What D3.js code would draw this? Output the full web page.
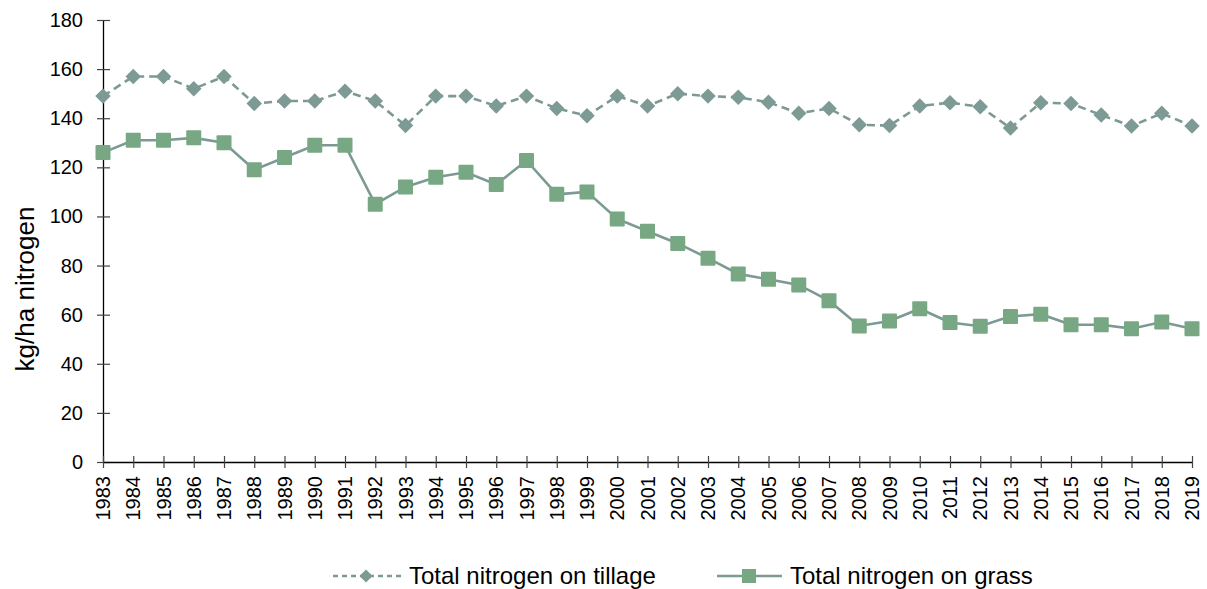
<!DOCTYPE html>
<html>
<head>
<meta charset="utf-8">
<script src="https://cdn.jsdelivr.net/npm/d3@7"></script>
<style>
  html, body { margin: 0; padding: 0; background: #fff; }
  svg { display: block; font-family: "Liberation Sans", Arial, sans-serif; }
  .axis text { fill: #000; font-family: "Liberation Sans", Arial, sans-serif; }
</style>
</head>
<body>
<svg id="chart" width="1207" height="589"></svg>
<script>
// Annual nitrogen application rates, kg/ha
const years = d3.range(1983, 2020);
const tillage = [149, 157, 157, 152, 157, 146, 147, 147, 151, 147, 137, 149, 149, 145, 149, 144, 141,
  149, 145, 150, 149, 148.5, 146.5, 142, 144, 137.3, 137, 145, 146.3, 144.7, 136, 146.3, 146, 141.3, 136.8, 142, 136.8];
const grass = [126, 131, 131, 132, 130, 119, 124, 129, 129, 105, 112, 116, 118, 113, 122.8, 109, 110,
  99, 94, 89, 83, 76.6, 74.4, 72.1, 65.7, 55.4, 57.4, 62.4, 56.8, 55.3, 59.3, 60.2, 55.9, 55.9, 54.3, 57, 54.3];
const yTicks = [0, 20, 40, 60, 80, 100, 120, 140, 160, 180];
const seriesNames = ["Total nitrogen on tillage", "Total nitrogen on grass"];

const svg = d3.select("#chart");
const plotLeft = 103, plotRight = 1192, plotTop = 20, plotBottom = 462;
const fontFamily = "Liberation Sans, Arial, sans-serif";
const tickFont = 20;

const x = d3.scaleLinear().domain([1983, 2019]).range([plotLeft, plotRight]);
const y = d3.scaleLinear().domain([0, 180]).range([plotBottom, plotTop]);

const lineColor = "#7c9a93";
const diamondColor = "#7d9a94";
const squareColor = "#77a883";

// Y axis: labels drawn as plain text so their size is set directly
const yAxis = svg.append("g").attr("class", "axis").attr("transform", `translate(${plotLeft},0)`)
  .call(d3.axisLeft(y).tickValues(yTicks).tickSize(0).tickFormat(""));
yAxis.select(".domain").attr("stroke", "#000").attr("stroke-width", 1.3);
yAxis.selectAll(".tick").append("line")
  .attr("x1", -6).attr("x2", 7).attr("stroke", "#444").attr("stroke-width", 1.2);
svg.append("g").selectAll("text").data(yTicks).join("text")
  .attr("x", plotLeft - 20).attr("y", d => y(d)).attr("dy", "0.35em")
  .attr("text-anchor", "end")
  .attr("font-family", fontFamily).attr("font-size", tickFont).attr("fill", "#000")
  .text(d => d);

// X axis
const xAxis = svg.append("g").attr("class", "axis").attr("transform", `translate(0,${plotBottom})`)
  .call(d3.axisBottom(x).tickValues(years).tickSize(0).tickFormat(""));
xAxis.select(".domain").attr("stroke", "#000").attr("stroke-width", 1.3);
xAxis.selectAll(".tick").append("line")
  .attr("y1", -6).attr("y2", 6).attr("stroke", "#444").attr("stroke-width", 1.2);
svg.append("g").selectAll("text").data(years).join("text")
  .attr("transform", d => `translate(${x(d)},${plotBottom + 14}) rotate(-90)`)
  .attr("dy", "0.35em")
  .attr("text-anchor", "end")
  .attr("font-family", fontFamily).attr("font-size", tickFont).attr("fill", "#000")
  .text(d => d);

// Y axis title
svg.append("text")
  .attr("transform", `translate(34,${(plotTop + plotBottom) / 2 + 48}) rotate(-90)`)
  .attr("text-anchor", "middle")
  .attr("font-size", 26)
  .attr("font-family", fontFamily)
  .attr("fill", "#000")
  .text("kg/ha nitrogen");

const line = d3.line().x((d, i) => x(years[i])).y(d => y(d));

// Tillage series: dashed line with diamonds
svg.append("path").datum(tillage)
  .attr("d", line).attr("fill", "none")
  .attr("stroke", lineColor).attr("stroke-width", 2.6)
  .attr("stroke-dasharray", "8,5");
const diamond = d3.symbol().type(d3.symbolSquare).size(120);
svg.append("g").selectAll("path").data(tillage).join("path")
  .attr("d", diamond)
  .attr("transform", (d, i) => `translate(${x(years[i])},${y(d)}) rotate(45)`)
  .attr("fill", diamondColor);

// Grass series: solid line with squares
svg.append("path").datum(grass)
  .attr("d", line).attr("fill", "none")
  .attr("stroke", lineColor).attr("stroke-width", 2.6);
svg.append("g").selectAll("rect").data(grass).join("rect")
  .attr("x", (d, i) => x(years[i]) - 7.5).attr("y", d => y(d) - 7.5)
  .attr("width", 15).attr("height", 15).attr("rx", 1)
  .attr("fill", squareColor);

// Legend
const ly = 576;
const lg = svg.append("g").attr("font-family", fontFamily);
lg.append("line").attr("x1", 333).attr("x2", 402).attr("y1", ly).attr("y2", ly)
  .attr("stroke", lineColor).attr("stroke-width", 2.6).attr("stroke-dasharray", "5,4");
lg.append("path").attr("d", d3.symbol().type(d3.symbolSquare).size(85))
  .attr("transform", `translate(366,${ly}) rotate(45)`).attr("fill", diamondColor);
lg.append("text").attr("x", 409).attr("y", ly).attr("dy", "0.35em")
  .attr("font-size", 24).attr("fill", "#000").text(seriesNames[0]);

lg.append("line").attr("x1", 717).attr("x2", 782).attr("y1", ly).attr("y2", ly)
  .attr("stroke", lineColor).attr("stroke-width", 2.6);
lg.append("rect").attr("x", 742).attr("y", ly - 7).attr("width", 14).attr("height", 14)
  .attr("fill", squareColor);
lg.append("text").attr("x", 790).attr("y", ly).attr("dy", "0.35em")
  .attr("font-size", 24).attr("fill", "#000").text(seriesNames[1]);
</script>
</body>
</html>
